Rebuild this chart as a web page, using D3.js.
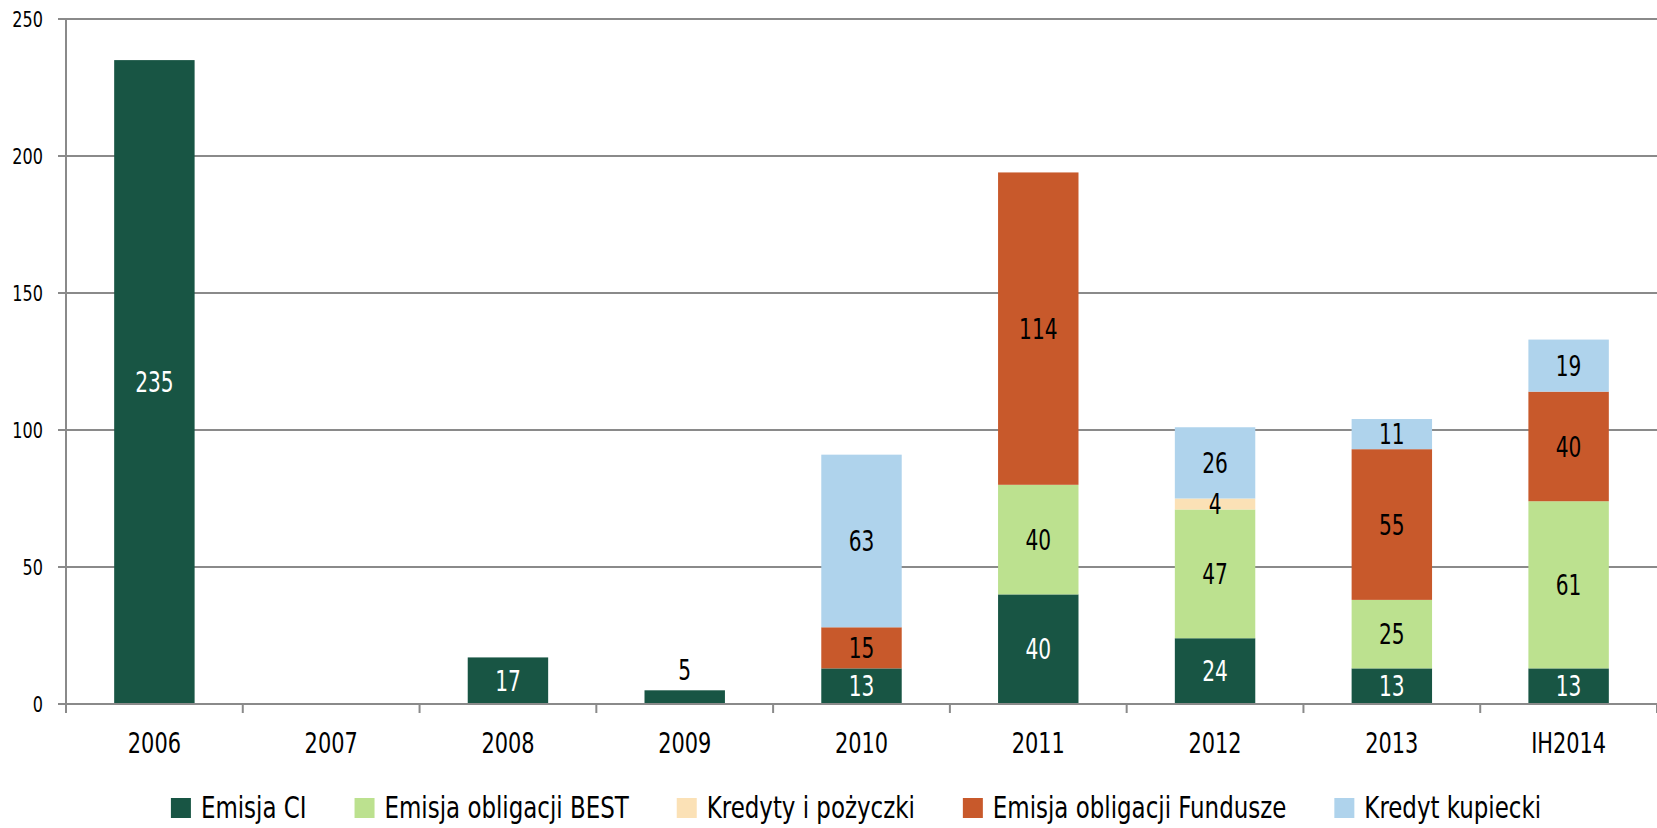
<!DOCTYPE html>
<html>
<head>
<meta charset="utf-8">
<script src="https://cdn.jsdelivr.net/npm/d3@7"></script>
<style>
  body { margin: 0; background: #fff; }
  svg { display: block; font-family: 'Liberation Sans Narrow', 'DejaVu Sans Condensed', sans-serif; }
</style>
</head>
<body>
<svg id="chart" width="1657" height="828"></svg>
<script>
const years = ['2006', '2007', '2008', '2009', '2010', '2011', '2012', '2013', 'IH2014'];
const seriesNames = ['Emisja CI', 'Emisja obligacji BEST', 'Kredyty i pożyczki', 'Emisja obligacji Fundusze', 'Kredyt kupiecki'];
const seriesColors = ['#185544', '#bce18f', '#fbe1b6', '#c8592b', '#afd3ec'];
const labelColors = ['#fff', '#000', '#000', '#000', '#000'];

const emisjaCI      = [235, 0, 17, 5, 13, 40, 24, 13, 13];
const emisjaBEST    = [0, 0, 0, 0, 0, 40, 47, 25, 61];
const kredyty       = [0, 0, 0, 0, 0, 0, 4, 0, 0];
const emisjaFundusze = [0, 0, 0, 0, 15, 114, 0, 55, 40];
const kredytKupiecki = [0, 0, 0, 0, 63, 0, 26, 11, 19];

const yTicks = [0, 50, 100, 150, 200, 250];

const svg = d3.select('#chart');
const margin = {top: 19, right: 0, bottom: 124, left: 66};
const width = 1657, height = 828;
const plotBottom = height - margin.bottom;
const narrow = 0.8; // the original font is a condensed one

const rows = years.map((year, i) => ({
    year: year,
    s0: emisjaCI[i], s1: emisjaBEST[i], s2: kredyty[i], s3: emisjaFundusze[i], s4: kredytKupiecki[i]
}));
const keys = ['s0', 's1', 's2', 's3', 's4'];
const stacked = d3.stack().keys(keys)(rows);

const x = d3.scaleBand()
    .domain(years)
    .range([margin.left, width - margin.right])
    .paddingInner(0.545)
    .paddingOuter(0.2725);

const y = d3.scaleLinear()
    .domain([0, 250])
    .range([plotBottom, margin.top]);

// condensed text helper
function squeeze(sel, px, py, sx) {
    return sel.attr('transform', d => `translate(${px(d)},${py(d)}) scale(${sx},1)`);
}

// gridlines
svg.append('g')
    .selectAll('line')
    .data(yTicks)
    .join('line')
    .attr('x1', margin.left - 8)
    .attr('x2', width)
    .attr('y1', d => y(d))
    .attr('y2', d => y(d))
    .attr('stroke', '#8a8a8a')
    .attr('stroke-width', 2);

// y labels
svg.append('g')
    .selectAll('text')
    .data(yTicks)
    .join('text')
    .call(squeeze, d => 43, d => y(d), 0.85)
    .attr('dy', '0.36em')
    .attr('text-anchor', 'end')
    .style('font-size', '21px')
    .text(d => d);

// bars
const layers = svg.append('g').selectAll('g')
    .data(stacked)
    .join('g')
    .attr('fill', (d, i) => seriesColors[i]);

layers.selectAll('rect')
    .data(d => d.filter(p => p[1] - p[0] > 0))
    .join('rect')
    .attr('x', d => x(d.data.year))
    .attr('width', x.bandwidth())
    .attr('y', d => y(d[1]))
    .attr('height', d => y(d[0]) - y(d[1]));

// value labels
stacked.forEach((layer, i) => {
    svg.append('g')
        .selectAll('text')
        .data(layer.filter(p => p[1] - p[0] > 0))
        .join('text')
        .call(squeeze, d => x(d.data.year) + x.bandwidth() / 2, d => {
            const h = y(d[0]) - y(d[1]);
            if (i === 0 && h < 20 && keys.every(k => k === 's0' || d.data[k] === 0)) return y(d[1]) - 20;
            return (y(d[0]) + y(d[1])) / 2;
        }, narrow)
        .attr('dy', '0.36em')
        .attr('text-anchor', 'middle')
        .attr('fill', d => {
            const h = y(d[0]) - y(d[1]);
            return (i === 0 && h < 20) ? '#000' : labelColors[i];
        })
        .style('font-size', '28px')
        .text(d => d[1] - d[0]);
});

// axes lines
svg.append('line')
    .attr('x1', margin.left).attr('x2', margin.left)
    .attr('y1', margin.top).attr('y2', plotBottom + 9)
    .attr('stroke', '#8a8a8a').attr('stroke-width', 2);

svg.append('line')
    .attr('x1', margin.left - 8).attr('x2', width)
    .attr('y1', plotBottom).attr('y2', plotBottom)
    .attr('stroke', '#8a8a8a').attr('stroke-width', 2);

// x ticks at band boundaries
const step = x.step();
const boundaries = d3.range(years.length + 1).map(i => margin.left + i * step);
svg.append('g')
    .selectAll('line')
    .data(boundaries)
    .join('line')
    .attr('x1', d => d).attr('x2', d => d)
    .attr('y1', plotBottom).attr('y2', plotBottom + 9)
    .attr('stroke', '#8a8a8a').attr('stroke-width', 2);

// x labels
svg.append('g')
    .selectAll('text')
    .data(years)
    .join('text')
    .call(squeeze, d => x(d) + x.bandwidth() / 2, d => 753, narrow)
    .attr('text-anchor', 'middle')
    .style('font-size', '29px')
    .text(d => d);

// legend
const legend = svg.append('g');
const legendScale = 0.85, legendGap = 48;
let lx = 0;
seriesNames.forEach((name, i) => {
    const item = legend.append('g').attr('transform', `translate(${lx},0)`);
    item.append('rect')
        .attr('x', 0).attr('y', 798)
        .attr('width', 20).attr('height', 20)
        .attr('fill', seriesColors[i]);
    const t = item.append('text')
        .attr('transform', `translate(30,818) scale(${legendScale},1)`)
        .style('font-size', '30px')
        .text(name);
    lx += 30 + t.node().getComputedTextLength() * legendScale + legendGap;
});
const legendWidth = lx - legendGap;
legend.attr('transform', `translate(${856 - legendWidth / 2},0)`);
</script>
</body>
</html>
